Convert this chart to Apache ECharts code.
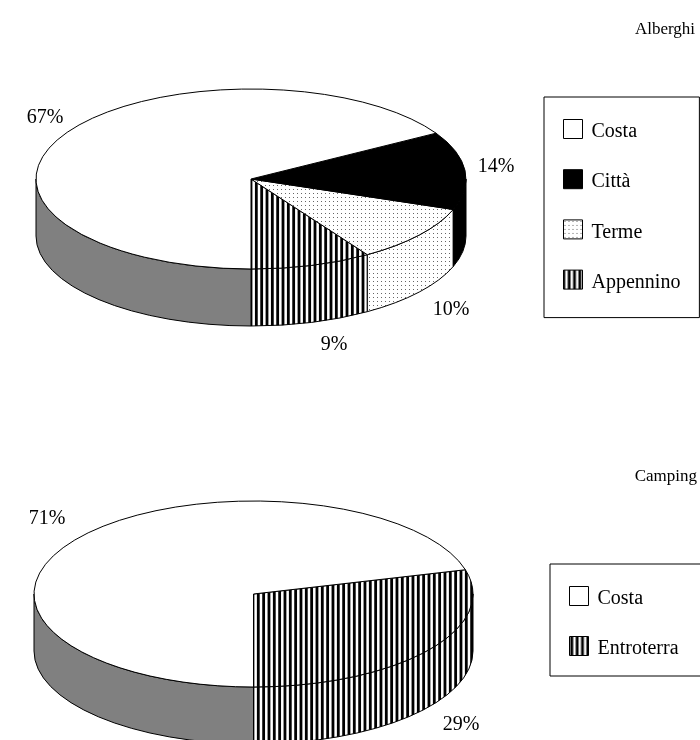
<!DOCTYPE html>
<html>
<head>
<meta charset="utf-8">
<style>
  html, body { margin: 0; padding: 0; background: #fff; }
  #main { width: 700px; height: 740px; }
</style>
<script src="https://cdn.jsdelivr.net/npm/echarts@6/dist/echarts.min.js"></script>
</head>
<body>
<div id="main"></div>
<script>
// valori (quota %), dal basso in senso antiorario
const alberghiNames = ['Appennino', 'Terme', 'Città', 'Costa']
const alberghiValues = [9.1, 10.4, 14.0, 66.5]
const campingNames = ['Entroterra', 'Costa']
const campingValues = [29.2, 70.8]

// ordine della legenda
const alberghiLegend = ['Costa', 'Città', 'Terme', 'Appennino']
const campingLegend = ['Costa', 'Entroterra']

const FONT = '"Liberation Serif", "Times New Roman", serif'
const TEXT_SIZE = 20
const TITLE_SIZE = 17

function makeTile(w, h, draw) {
  const c = document.createElement('canvas')
  c.width = w
  c.height = h
  const ctx = c.getContext('2d')
  ctx.fillStyle = '#fff'
  ctx.fillRect(0, 0, w, h)
  draw(ctx)
  return { image: c, repeat: 'repeat' }
}

// righe verticali: periodo 16/3 px (tre righe per tessera), la fase cambia tra le due torte
function makeStripes(offset) {
  return makeTile(16, 4, function (ctx) {
    ctx.fillStyle = '#000'
    for (let i = -3; i < 6; i++) {
      ctx.fillRect(offset + i * 16 / 3, 0, 2.8, 4)
    }
  })
}
const dots = makeTile(4, 4, function (ctx) {
  ctx.fillStyle = '#666'
  ctx.fillRect(1, 1, 1, 1)
})

const alberghiPie = {
  cx: 251, cy: 179, rx: 215, ry: 90, depth: 57,
  labels: { Costa: [45, 118], 'Città': [496, 167], Terme: [451, 310], Appennino: [334, 345] },
  top: { Costa: '#fff', 'Città': '#000', Terme: dots, Appennino: makeStripes(9.6) },
  wall: { Costa: '#808080', 'Città': '#000', Terme: dots, Appennino: makeStripes(9.6) },
}
const campingPie = {
  cx: 253.5, cy: 594, rx: 219.5, ry: 93, depth: 57,
  labels: { Costa: [47, 519], Entroterra: [461, 725] },
  top: { Costa: '#fff', Entroterra: makeStripes(0.9) },
  wall: { Costa: '#808080', Entroterra: makeStripes(0.9) },
}

function sliceRenderer(pie, name) {
  return function (params, api) {
    const a0 = api.value(1) / 100 * 360
    const a1 = (api.value(1) + api.value(0)) / 100 * 360
    // angolo sullo schermo: 90 = in basso, decresce verso destra
    const t0 = 90 - a0
    const t1 = 90 - a1
    const px = function (t) { return pie.cx + pie.rx * Math.cos(t * Math.PI / 180) }
    const py = function (t) { return pie.cy + pie.ry * Math.sin(t * Math.PI / 180) }
    const arc = function (large, sweep, x, y) {
      return 'A' + pie.rx + ' ' + pie.ry + ' 0 ' + large + ' ' + sweep + ' ' + x + ' ' + y
    }
    const line = { stroke: '#000', lineWidth: 1 }
    const children = []

    // parete laterale: solo la parte nella metà inferiore dell'ellisse
    ;[0, -360].forEach(function (k) {
      const hi = Math.min(t0, 180 + k)
      const lo = Math.max(t1, k)
      if (hi <= lo) return
      const d = 'M' + px(hi) + ' ' + py(hi) +
        arc(0, 0, px(lo), py(lo)) +
        'L' + px(lo) + ' ' + (py(lo) + pie.depth) +
        arc(0, 1, px(hi), py(hi) + pie.depth) + 'Z'
      children.push({
        type: 'path',
        shape: { pathData: d },
        style: Object.assign({ fill: pie.wall[name] }, line),
      })
    })

    const large = t0 - t1 > 180 ? 1 : 0
    children.push({
      type: 'path',
      shape: {
        pathData: 'M' + pie.cx + ' ' + pie.cy +
          'L' + px(t0) + ' ' + py(t0) +
          arc(large, 0, px(t1), py(t1)) + 'Z',
      },
      style: Object.assign({ fill: pie.top[name] }, line),
    })

    children.push({
      type: 'text',
      x: pie.labels[name][0],
      y: pie.labels[name][1],
      style: {
        text: Math.round(api.value(0)) + '%',
        font: TEXT_SIZE + 'px ' + FONT,
        fill: '#000',
        align: 'center',
        verticalAlign: 'middle',
      },
    })
    return { type: 'group', children: children }
  }
}

function buildSeries(names, values, pie) {
  let start = 0
  return names.map(function (name, i) {
    const item = {
      name: name,
      type: 'custom',
      coordinateSystem: 'none',
      silent: true,
      animation: false,
      renderItem: sliceRenderer(pie, name),
      data: [[values[i], start]],
    }
    start += values[i]
    return item
  })
}

function buildLegend(names, pie, pos) {
  return Object.assign({
    orient: 'vertical',
    selectedMode: false,
    icon: 'rect',
    itemWidth: 19,
    itemHeight: 19,
    borderColor: '#000',
    borderWidth: 1,
    borderRadius: 0,
    backgroundColor: '#fff',
    formatter: '{t|{name}}',
    textStyle: {
      color: '#000',
      rich: { t: { fontFamily: FONT, fontSize: TEXT_SIZE, color: '#000', padding: [6, 0, 0, 4] } },
    },
    data: names.map(function (name) {
      return { name: name, itemStyle: { color: pie.top[name], borderColor: '#000', borderWidth: 1 } }
    }),
  }, pos)
}

const titleStyle = { fontFamily: FONT, fontSize: TITLE_SIZE, fontWeight: 'normal', color: '#000' }

const myChart = echarts.init(document.getElementById('main'), null, { renderer: 'canvas' })
myChart.setOption({
  backgroundColor: '#fff',
  animation: false,
  title: [
    { text: 'Alberghi', right: 5, top: 21, textStyle: titleStyle, padding: 0 },
    { text: 'Camping', right: 3, top: 468, textStyle: titleStyle, padding: 0 },
  ],
  legend: [
    buildLegend(alberghiLegend, alberghiPie, { left: 544, top: 97, itemGap: 27.2, padding: [22, 19, 25, 19] }),
    buildLegend(campingLegend, campingPie, { left: 550, top: 564, itemGap: 27, padding: [22, 22, 17, 19] }),
  ],
  series: buildSeries(alberghiNames, alberghiValues, alberghiPie)
    .concat(buildSeries(campingNames, campingValues, campingPie)),
})
</script>
</body>
</html>
